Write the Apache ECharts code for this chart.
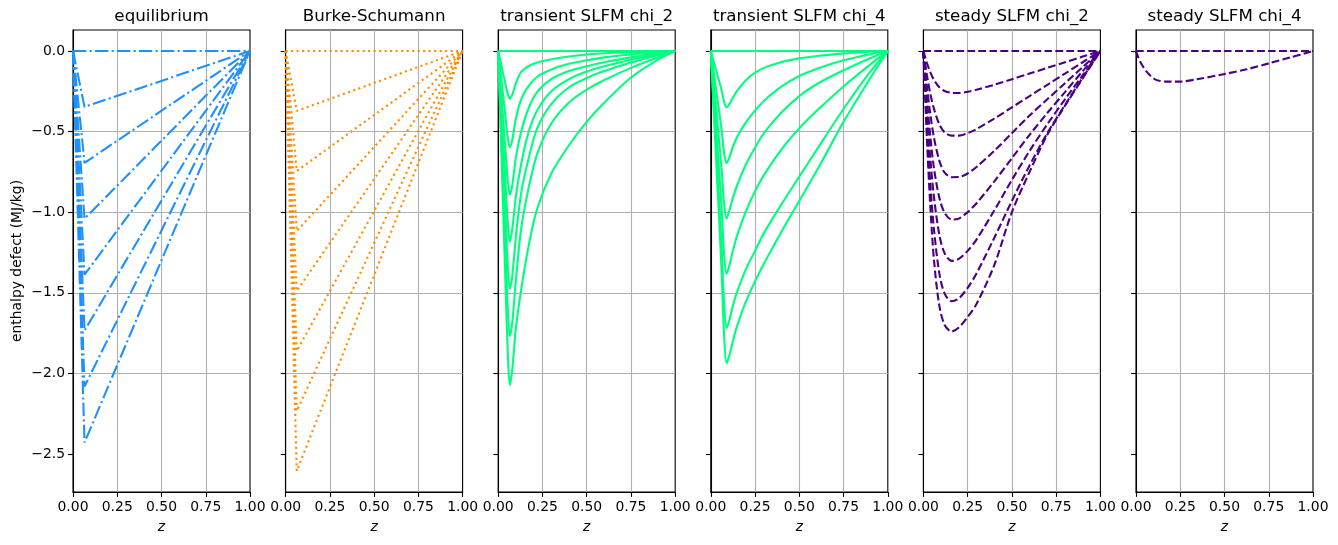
<!DOCTYPE html>
<html>
<head>
<meta charset="utf-8">
<script src="https://cdn.jsdelivr.net/npm/echarts@6/dist/echarts.min.js"></script>
<style>
  html, body { margin: 0; padding: 0; background: #fff; }
  #main { width: 1338px; height: 545px; }
</style>
</head>
<body>
<div id="main"></div>
<script>
var titles = ['equilibrium', 'Burke-Schumann', 'transient SLFM chi_2', 'transient SLFM chi_4', 'steady SLFM chi_2', 'steady SLFM chi_4'];
var xTicks = [0, 0.25, 0.5, 0.75, 1];
var yTicks = [-2.5, -2, -1.5, -1, -0.5, 0];

// equilibrium and Burke-Schumann: straight segments through the tip
var eqZ = [0, 0.065, 1];
var eqTip = [0, -0.347, -0.694, -1.041, -1.388, -1.735, -2.082, -2.429];
var bsZ = [0, 0.063, 1];
var bsTip = [0, -0.372, -0.745, -1.117, -1.489, -1.861, -2.234, -2.606];

// transient SLFM chi_2
var t2Z = [0, 0.02, 0.04, 0.055, 0.066, 0.08, 0.1, 0.13, 0.17, 0.22, 0.3, 0.4, 0.5, 0.6, 0.75, 0.9, 1.0];
var t2Curves = [
  [0, 0, 0, 0, 0, 0, 0, 0, 0, 0, 0, 0, 0, 0, 0, 0, 0],
  [0, -0.10, -0.20, -0.27, -0.297, -0.27, -0.20, -0.13, -0.095, -0.072, -0.052, -0.034, -0.022, -0.014, -0.007, -0.002, 0],
  [0, -0.2, -0.4, -0.545, -0.597, -0.55, -0.42, -0.30, -0.22, -0.16, -0.115, -0.08, -0.058, -0.04, -0.022, -0.008, 0],
  [0, -0.3, -0.6, -0.81, -0.892, -0.83, -0.66, -0.50, -0.36, -0.255, -0.175, -0.125, -0.095, -0.07, -0.04, -0.013, 0],
  [0, -0.4, -0.8, -1.08, -1.185, -1.1, -0.9, -0.70, -0.51, -0.37, -0.25, -0.175, -0.128, -0.095, -0.055, -0.02, 0],
  [0, -0.5, -1.0, -1.35, -1.476, -1.39, -1.15, -0.88, -0.675, -0.48, -0.33, -0.225, -0.168, -0.125, -0.072, -0.027, 0],
  [0, -0.6, -1.2, -1.62, -1.769, -1.68, -1.42, -1.10, -0.86, -0.64, -0.45, -0.32, -0.24, -0.18, -0.105, -0.04, 0],
  [0, -0.7, -1.4, -1.9, -2.072, -1.97, -1.72, -1.48, -1.22, -0.98, -0.76, -0.585, -0.44, -0.32, -0.165, -0.055, 0]
];

// transient SLFM chi_4
var t4Z = [0, 0.02, 0.04, 0.06, 0.075, 0.089, 0.105, 0.125, 0.15, 0.2, 0.25, 0.3, 0.4, 0.5, 0.6, 0.75, 0.9, 1.0];
var t4Curves = [
  [0, 0, 0, 0, 0, 0, 0, 0, 0, 0, 0, 0, 0, 0, 0, 0, 0, 0],
  [0, -0.08, -0.16, -0.24, -0.315, -0.351, -0.33, -0.29, -0.245, -0.18, -0.135, -0.105, -0.068, -0.046, -0.031, -0.015, -0.005, 0],
  [0, -0.16, -0.32, -0.48, -0.63, -0.696, -0.66, -0.595, -0.53, -0.44, -0.37, -0.31, -0.22, -0.155, -0.11, -0.058, -0.02, 0],
  [0, -0.24, -0.48, -0.72, -0.945, -1.041, -0.99, -0.91, -0.83, -0.70, -0.60, -0.51, -0.38, -0.28, -0.205, -0.12, -0.045, 0],
  [0, -0.32, -0.64, -0.955, -1.26, -1.384, -1.33, -1.24, -1.14, -0.99, -0.87, -0.77, -0.61, -0.48, -0.37, -0.22, -0.085, 0],
  [0, -0.4, -0.79, -1.19, -1.56, -1.719, -1.67, -1.58, -1.49, -1.35, -1.24, -1.13, -0.95, -0.78, -0.61, -0.36, -0.13, 0],
  [0, -0.45, -0.89, -1.34, -1.76, -1.936, -1.89, -1.80, -1.70, -1.55, -1.43, -1.32, -1.12, -0.93, -0.74, -0.44, -0.17, 0]
];

// steady SLFM chi_2
var s2Z = [0, 0.02, 0.04, 0.06, 0.09, 0.12, 0.16, 0.2, 0.25, 0.3, 0.4, 0.5, 0.6, 0.7, 0.8, 0.9, 1.0];
var s2Curves = [
  [0, 0, 0, 0, 0, 0, 0, 0, 0, 0, 0, 0, 0, 0, 0, 0, 0],
  [0, -0.075, -0.135, -0.18, -0.225, -0.248, -0.26, -0.261, -0.253, -0.24, -0.21, -0.175, -0.14, -0.105, -0.07, -0.035, 0],
  [0, -0.15, -0.27, -0.36, -0.455, -0.505, -0.525, -0.525, -0.51, -0.485, -0.42, -0.35, -0.28, -0.21, -0.14, -0.07, 0],
  [0, -0.22, -0.40, -0.54, -0.68, -0.755, -0.783, -0.782, -0.76, -0.72, -0.62, -0.51, -0.40, -0.30, -0.20, -0.10, 0],
  [0, -0.30, -0.54, -0.73, -0.91, -1.005, -1.046, -1.04, -1.0, -0.945, -0.81, -0.665, -0.52, -0.385, -0.255, -0.125, 0],
  [0, -0.38, -0.68, -0.91, -1.14, -1.255, -1.302, -1.29, -1.24, -1.17, -0.99, -0.80, -0.62, -0.455, -0.30, -0.15, 0],
  [0, -0.47, -0.84, -1.11, -1.38, -1.505, -1.553, -1.535, -1.47, -1.38, -1.16, -0.93, -0.71, -0.51, -0.335, -0.165, 0],
  [0, -0.55, -0.98, -1.3, -1.58, -1.70, -1.74, -1.715, -1.65, -1.57, -1.33, -1.0, -0.75, -0.52, -0.34, -0.17, 0]
];

// steady SLFM chi_4
var s4Z = [0, 0.023, 0.06, 0.107, 0.173, 0.249, 0.343, 0.5, 0.625, 0.753, 0.87, 1.0];
var s4Curves = [
  [0, 0, 0, 0, 0, 0, 0, 0, 0, 0, 0, 0],
  [0, -0.066, -0.128, -0.176, -0.19, -0.19, -0.176, -0.143, -0.114, -0.076, -0.041, 0]
];

var font = 'DejaVu Sans';
// matplotlib lw 1.5 at dpi 100 -> ~2.1 px, dash patterns scaled the same way
var lw = 2.1;
var styles = [
  { color: '#1e90ff', type: [13.3, 3.3, 2.1, 3.3], smooth: false },
  { color: '#ff8c00', type: [2.1, 3.4], smooth: false },
  { color: '#00ff7f', type: 'solid', smooth: 0.3 },
  { color: '#00ff7f', type: 'solid', smooth: 0.3 },
  { color: '#4b0082', type: [7.7, 3.3], smooth: 0.3 },
  { color: '#4b0082', type: [7.7, 3.3], smooth: 0.3 }
];

function pairs(z, vals) {
  return z.map(function (x, i) { return [x, vals[i]]; });
}

var panels = [
  eqTip.map(function (t) { return pairs(eqZ, [0, t, 0]); }),
  bsTip.map(function (t) { return pairs(bsZ, [0, t, 0]); }),
  t2Curves.map(function (c) { return pairs(t2Z, c); }),
  t4Curves.map(function (c) { return pairs(t4Z, c); }),
  s2Curves.map(function (c) { return pairs(s2Z, c); }),
  s4Curves.map(function (c) { return pairs(s4Z, c); })
];

var left0 = 73, step = 212.6, w = 177, top0 = 30, h = 462;
var grid = [], xAxis = [], yAxis = [], title = [], series = [];

function minus(s) { return s.replace('-', '\u2212'); }

for (var i = 0; i < 6; i++) {
  grid.push({
    left: left0 + i * step, top: top0, width: w, height: h,
    show: true, borderColor: '#000', borderWidth: 1.1, containLabel: false
  });
  title.push({
    text: titles[i],
    left: left0 + i * step + w / 2,
    top: 8,
    textAlign: 'center',
    padding: 0,
    textStyle: { fontFamily: font, fontSize: 16.7, fontWeight: 'normal', color: '#000' }
  });
  xAxis.push({
    type: 'value', gridIndex: i, min: 0, max: 1, interval: 0.25,
    name: 'z', nameLocation: 'middle', nameGap: 28,
    nameTextStyle: { fontFamily: font, fontStyle: 'italic', fontSize: 13.9, color: '#000' },
    axisLine: { show: true, onZero: false, lineStyle: { color: '#000', width: 1.1 } },
    axisTick: { show: true, length: 4.9, lineStyle: { color: '#000', width: 1.1 } },
    axisLabel: {
      fontFamily: font, fontSize: 13.9, color: '#000', margin: 8,
      showMinLabel: true, showMaxLabel: true, hideOverlap: false,
      formatter: function (v) { return v.toFixed(2); }
    },
    splitLine: { show: true, showMinLine: false, showMaxLine: false, lineStyle: { color: '#b0b0b0', width: 1.1 } }
  });
  yAxis.push({
    type: 'value', gridIndex: i, min: -2.736, max: 0.13, minInterval: 0.5, maxInterval: 0.5,
    name: i === 0 ? 'enthalpy defect (MJ/kg)' : '',
    nameLocation: 'middle', nameGap: 49,
    nameTextStyle: { fontFamily: font, fontSize: 13.9, color: '#000' },
    axisLine: { show: true, onZero: false, lineStyle: { color: '#000', width: 1.1 } },
    axisTick: { show: true, length: 4.9, customValues: yTicks, lineStyle: { color: '#000', width: 1.1 } },
    axisLabel: {
      show: i === 0, customValues: yTicks,
      fontFamily: font, fontSize: 13.9, color: '#000', margin: 8,
      formatter: function (v) { return minus(v.toFixed(1)); }
    },
    splitLine: { show: true, showMinLine: false, showMaxLine: false, lineStyle: { color: '#b0b0b0', width: 1.1 } }
  });
  panels[i].forEach(function (d) {
    series.push({
      type: 'line', xAxisIndex: i, yAxisIndex: i, data: d,
      showSymbol: false, symbol: 'none', smooth: styles[i].smooth,
      lineStyle: { color: styles[i].color, width: lw, type: styles[i].type, cap: 'butt' },
      silent: true
    });
  });
}

var chart = echarts.init(document.getElementById('main'), null, { renderer: 'canvas' });
chart.setOption({
  animation: false,
  backgroundColor: '#fff',
  title: title,
  grid: grid,
  xAxis: xAxis,
  yAxis: yAxis,
  series: series
});
</script>
</body>
</html>
